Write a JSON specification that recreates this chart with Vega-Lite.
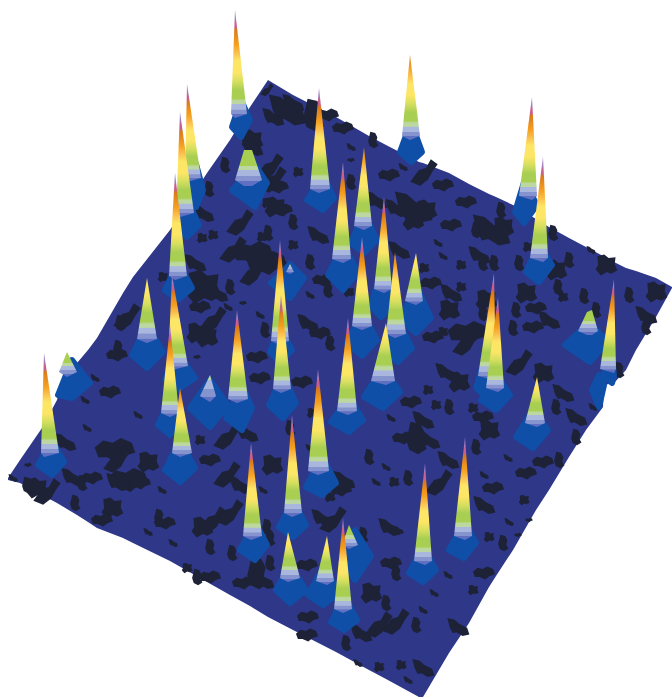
{"$schema":"https://vega.github.io/schema/vega-lite/v6.json","width":672,"height":699,"padding":0,"autosize":"none","background":"white","config":{"view":{"stroke":null}},
"datasets":{"peaks":[
{"id":"1b","kind":"base","x":232,"y":127,"y2":127},{"id":"1b","kind":"base","x":241,"y":100,"y2":137},{"id":"1b","kind":"base","x":250,"y":120,"y2":120},{"id":"1c","kind":"A","x":231,"y":114,"y2":114},{"id":"1c","kind":"A","x":235,"y":10,"y2":118},{"id":"1c","kind":"A","x":247,"y":114,"y2":114},
{"id":"20b","kind":"base","x":400,"y":152,"y2":152},{"id":"20b","kind":"base","x":411,"y":122,"y2":162},{"id":"20b","kind":"base","x":422,"y":152,"y2":152},{"id":"20c","kind":"B","x":402,"y":136,"y2":136},{"id":"20c","kind":"B","x":410,"y":55,"y2":140},{"id":"20c","kind":"B","x":420,"y":136,"y2":136},
{"id":"2b","kind":"base","x":184,"y":197,"y2":197},{"id":"2b","kind":"base","x":196,"y":164,"y2":207},{"id":"2b","kind":"base","x":203,"y":190,"y2":190},{"id":"2c","kind":"A","x":185,"y":178,"y2":178},{"id":"2c","kind":"A","x":187,"y":84,"y2":182},{"id":"2c","kind":"A","x":201,"y":178,"y2":178},
{"id":"5b","kind":"base","x":232,"y":190,"y2":190},{"id":"5b","kind":"base","x":255,"y":165,"y2":207},{"id":"5b","kind":"base","x":267,"y":183,"y2":183},{"id":"5c","kind":"D","x":235,"y":180,"y2":180},{"id":"5c","kind":"D","x":244,"y":150,"y2":186},{"id":"5c","kind":"D","x":252,"y":150,"y2":186},{"id":"5c","kind":"D","x":262,"y":180,"y2":180},
{"id":"6b","kind":"base","x":307,"y":200,"y2":200},{"id":"6b","kind":"base","x":323,"y":175,"y2":210},{"id":"6b","kind":"base","x":334,"y":198,"y2":198},{"id":"6c","kind":"A","x":310,"y":189,"y2":189},{"id":"6c","kind":"A","x":319,"y":88,"y2":193},{"id":"6c","kind":"A","x":330,"y":189,"y2":189},
{"id":"21b","kind":"base","x":515,"y":212,"y2":212},{"id":"21b","kind":"base","x":524,"y":182,"y2":223},{"id":"21b","kind":"base","x":537,"y":205,"y2":205},{"id":"21c","kind":"A","x":519,"y":196,"y2":196},{"id":"21c","kind":"A","x":532,"y":97,"y2":200},{"id":"21c","kind":"A","x":537,"y":196,"y2":196},
{"id":"3b","kind":"base","x":175,"y":227,"y2":227},{"id":"3b","kind":"base","x":187,"y":199,"y2":237},{"id":"3b","kind":"base","x":199,"y":225,"y2":225},{"id":"3c","kind":"A","x":176,"y":213,"y2":213},{"id":"3c","kind":"A","x":180,"y":112,"y2":217},{"id":"3c","kind":"A","x":194,"y":213,"y2":213},
{"id":"13b","kind":"base","x":351,"y":243,"y2":243},{"id":"13b","kind":"base","x":364,"y":212,"y2":253},{"id":"13b","kind":"base","x":377,"y":240,"y2":240},{"id":"13c","kind":"B","x":354,"y":226,"y2":226},{"id":"13c","kind":"B","x":364,"y":147,"y2":230},{"id":"13c","kind":"B","x":372,"y":226,"y2":226},
{"id":"22b","kind":"base","x":526,"y":272,"y2":272},{"id":"22b","kind":"base","x":539,"y":244,"y2":282},{"id":"22b","kind":"base","x":552,"y":265,"y2":265},{"id":"22c","kind":"A","x":530,"y":258,"y2":258},{"id":"22c","kind":"A","x":543,"y":157,"y2":262},{"id":"22c","kind":"A","x":548,"y":258,"y2":258},
{"id":"12b","kind":"base","x":328,"y":275,"y2":275},{"id":"12b","kind":"base","x":343,"y":245,"y2":290},{"id":"12b","kind":"base","x":358,"y":272,"y2":272},{"id":"12c","kind":"A","x":332,"y":259,"y2":259},{"id":"12c","kind":"A","x":343,"y":162,"y2":263},{"id":"12c","kind":"A","x":351,"y":259,"y2":259},
{"id":"40b","kind":"base","x":271,"y":283,"y2":283},{"id":"40b","kind":"base","x":290,"y":264,"y2":298},{"id":"40b","kind":"base","x":304,"y":278,"y2":278},{"id":"40c","kind":"E","x":286,"y":272,"y2":272},{"id":"40c","kind":"E","x":290,"y":264,"y2":274},{"id":"40c","kind":"E","x":294,"y":272,"y2":272},
{"id":"4b","kind":"base","x":165,"y":290,"y2":290},{"id":"4b","kind":"base","x":178,"y":262,"y2":300},{"id":"4b","kind":"base","x":192,"y":288,"y2":288},{"id":"4c","kind":"A","x":169,"y":276,"y2":276},{"id":"4c","kind":"A","x":175,"y":173,"y2":280},{"id":"4c","kind":"A","x":187,"y":276,"y2":276},
{"id":"14b","kind":"base","x":370,"y":305,"y2":305},{"id":"14b","kind":"base","x":381,"y":275,"y2":317},{"id":"14b","kind":"base","x":394,"y":305,"y2":305},{"id":"14c","kind":"A","x":374,"y":289,"y2":289},{"id":"14c","kind":"A","x":384,"y":197,"y2":293},{"id":"14c","kind":"A","x":392,"y":289,"y2":289},
{"id":"17b","kind":"base","x":401,"y":320,"y2":320},{"id":"17b","kind":"base","x":416,"y":285,"y2":333},{"id":"17b","kind":"base","x":431,"y":318,"y2":318},{"id":"17c","kind":"C","x":405,"y":301,"y2":301},{"id":"17c","kind":"C","x":416,"y":253,"y2":305},{"id":"17c","kind":"C","x":423,"y":301,"y2":301},
{"id":"10b","kind":"base","x":270,"y":352,"y2":352},{"id":"10b","kind":"base","x":280,"y":327,"y2":362},{"id":"10b","kind":"base","x":292,"y":350,"y2":350},{"id":"10c","kind":"A","x":271,"y":341,"y2":341},{"id":"10c","kind":"A","x":280,"y":240,"y2":345},{"id":"10c","kind":"A","x":289,"y":341,"y2":341},
{"id":"15b","kind":"base","x":347,"y":343,"y2":343},{"id":"15b","kind":"base","x":362,"y":312,"y2":356},{"id":"15b","kind":"base","x":377,"y":340,"y2":340},{"id":"15c","kind":"A","x":352,"y":326,"y2":326},{"id":"15c","kind":"A","x":362,"y":237,"y2":330},{"id":"15c","kind":"A","x":372,"y":326,"y2":326},
{"id":"16b","kind":"base","x":384,"y":350,"y2":350},{"id":"16b","kind":"base","x":398,"y":320,"y2":362},{"id":"16b","kind":"base","x":412,"y":348,"y2":348},{"id":"16c","kind":"B","x":386,"y":334,"y2":334},{"id":"16c","kind":"B","x":395,"y":252,"y2":338},{"id":"16c","kind":"B","x":406,"y":334,"y2":334},
{"id":"25b","kind":"base","x":565,"y":345,"y2":345},{"id":"25b","kind":"base","x":590,"y":322,"y2":362},{"id":"25b","kind":"base","x":607,"y":342,"y2":342},{"id":"25c","kind":"D","x":578,"y":331,"y2":331},{"id":"25c","kind":"D","x":587,"y":312,"y2":335},{"id":"25c","kind":"D","x":592,"y":310,"y2":335},{"id":"25c","kind":"D","x":598,"y":331,"y2":331},
{"id":"7b","kind":"base","x":132,"y":355,"y2":355},{"id":"7b","kind":"base","x":147,"y":325,"y2":368},{"id":"7b","kind":"base","x":163,"y":352,"y2":352},{"id":"7c","kind":"C","x":137,"y":339,"y2":339},{"id":"7c","kind":"C","x":147,"y":278,"y2":343},{"id":"7c","kind":"C","x":157,"y":339,"y2":339},
{"id":"8b","kind":"base","x":165,"y":380,"y2":380},{"id":"8b","kind":"base","x":177,"y":352,"y2":390},{"id":"8b","kind":"base","x":195,"y":378,"y2":378},{"id":"8c","kind":"A","x":168,"y":366,"y2":366},{"id":"8c","kind":"A","x":172,"y":275,"y2":370},{"id":"8c","kind":"A","x":188,"y":366,"y2":366},
{"id":"41b","kind":"base","x":592,"y":390,"y2":390},{"id":"41b","kind":"base","x":599,"y":375,"y2":407},{"id":"41b","kind":"base","x":604,"y":385,"y2":385},
{"id":"26b","kind":"base","x":603,"y":376,"y2":376},{"id":"26b","kind":"base","x":612,"y":355,"y2":383},{"id":"26b","kind":"base","x":614,"y":376,"y2":376},{"id":"26c","kind":"A","x":600,"y":369,"y2":369},{"id":"26c","kind":"A","x":614,"y":279,"y2":373},{"id":"26c","kind":"A","x":616,"y":369,"y2":369},
{"id":"28b","kind":"base","x":58,"y":395,"y2":395},{"id":"28b","kind":"base","x":72,"y":360,"y2":398},{"id":"28b","kind":"base","x":90,"y":383,"y2":383},{"id":"28c","kind":"D","x":59,"y":372,"y2":372},{"id":"28c","kind":"D","x":67,"y":352,"y2":377},{"id":"28c","kind":"D","x":77,"y":372,"y2":372},
{"id":"23b","kind":"base","x":476,"y":388,"y2":388},{"id":"23b","kind":"base","x":484,"y":362,"y2":395},{"id":"23b","kind":"base","x":496,"y":385,"y2":385},{"id":"23c","kind":"A","x":478,"y":376,"y2":376},{"id":"23c","kind":"A","x":494,"y":273,"y2":380},{"id":"23c","kind":"A","x":496,"y":376,"y2":376},
{"id":"18b","kind":"base","x":364,"y":397,"y2":397},{"id":"18b","kind":"base","x":383,"y":367,"y2":408},{"id":"18b","kind":"base","x":400,"y":392,"y2":392},{"id":"18c","kind":"C","x":371,"y":381,"y2":381},{"id":"18c","kind":"C","x":386,"y":323,"y2":385},{"id":"18c","kind":"C","x":395,"y":381,"y2":381},
{"id":"24b","kind":"base","x":481,"y":400,"y2":400},{"id":"24b","kind":"base","x":496,"y":374,"y2":410},{"id":"24b","kind":"base","x":510,"y":395,"y2":395},{"id":"24c","kind":"A","x":486,"y":388,"y2":388},{"id":"24c","kind":"A","x":498,"y":297,"y2":392},{"id":"24c","kind":"A","x":504,"y":388,"y2":388},
{"id":"11b","kind":"base","x":269,"y":405,"y2":405},{"id":"11b","kind":"base","x":283,"y":375,"y2":418},{"id":"11b","kind":"base","x":296,"y":403,"y2":403},{"id":"11c","kind":"A","x":273,"y":389,"y2":389},{"id":"11c","kind":"A","x":281,"y":295,"y2":393},{"id":"11c","kind":"A","x":291,"y":389,"y2":389},
{"id":"29b","kind":"base","x":190,"y":408,"y2":408},{"id":"29b","kind":"base","x":210,"y":380,"y2":427},{"id":"29b","kind":"base","x":228,"y":405,"y2":405},{"id":"29c","kind":"E","x":200,"y":396,"y2":396},{"id":"29c","kind":"E","x":210,"y":375,"y2":402},{"id":"29c","kind":"E","x":216,"y":396,"y2":396},
{"id":"9b","kind":"base","x":226,"y":418,"y2":418},{"id":"9b","kind":"base","x":242,"y":385,"y2":430},{"id":"9b","kind":"base","x":252,"y":408,"y2":408},{"id":"9c","kind":"A","x":228,"y":399,"y2":399},{"id":"9c","kind":"A","x":237,"y":310,"y2":403},{"id":"9c","kind":"A","x":248,"y":399,"y2":399},
{"id":"19b","kind":"base","x":331,"y":422,"y2":422},{"id":"19b","kind":"base","x":349,"y":397,"y2":432},{"id":"19b","kind":"base","x":363,"y":420,"y2":420},{"id":"19c","kind":"A","x":337,"y":411,"y2":411},{"id":"19c","kind":"A","x":348,"y":318,"y2":415},{"id":"19c","kind":"A","x":357,"y":411,"y2":411},
{"id":"30b","kind":"base","x":158,"y":425,"y2":425},{"id":"30b","kind":"base","x":170,"y":399,"y2":435},{"id":"30b","kind":"base","x":182,"y":423,"y2":423},{"id":"30c","kind":"A","x":161,"y":413,"y2":413},{"id":"30c","kind":"A","x":170,"y":325,"y2":417},{"id":"30c","kind":"A","x":179,"y":413,"y2":413},
{"id":"31b","kind":"base","x":516,"y":437,"y2":437},{"id":"31b","kind":"base","x":533,"y":410,"y2":448},{"id":"31b","kind":"base","x":548,"y":430,"y2":430},{"id":"31c","kind":"C","x":525,"y":423,"y2":423},{"id":"31c","kind":"C","x":537,"y":377,"y2":427},{"id":"31c","kind":"C","x":545,"y":423,"y2":423},
{"id":"27b","kind":"base","x":38,"y":465,"y2":465},{"id":"27b","kind":"base","x":52,"y":440,"y2":475},{"id":"27b","kind":"base","x":64,"y":462,"y2":462},{"id":"27c","kind":"A","x":41,"y":453,"y2":453},{"id":"27c","kind":"A","x":44,"y":353,"y2":457},{"id":"27c","kind":"A","x":59,"y":453,"y2":453},
{"id":"32b","kind":"base","x":165,"y":470,"y2":470},{"id":"32b","kind":"base","x":180,"y":440,"y2":482},{"id":"32b","kind":"base","x":195,"y":468,"y2":468},{"id":"32c","kind":"B","x":172,"y":453,"y2":453},{"id":"32c","kind":"B","x":180,"y":388,"y2":457},{"id":"32c","kind":"B","x":192,"y":453,"y2":453},
{"id":"33b","kind":"base","x":306,"y":487,"y2":487},{"id":"33b","kind":"base","x":322,"y":457,"y2":495},{"id":"33b","kind":"base","x":336,"y":483,"y2":483},{"id":"33c","kind":"A","x":308,"y":471,"y2":471},{"id":"33c","kind":"A","x":318,"y":369,"y2":475},{"id":"33c","kind":"A","x":329,"y":471,"y2":471},
{"id":"34b","kind":"base","x":279,"y":527,"y2":527},{"id":"34b","kind":"base","x":293,"y":499,"y2":537},{"id":"34b","kind":"base","x":306,"y":525,"y2":525},{"id":"34c","kind":"A","x":284,"y":513,"y2":513},{"id":"34c","kind":"A","x":292,"y":415,"y2":517},{"id":"34c","kind":"A","x":302,"y":513,"y2":513},
{"id":"35b","kind":"base","x":449,"y":550,"y2":550},{"id":"35b","kind":"base","x":464,"y":522,"y2":558},{"id":"35b","kind":"base","x":476,"y":543,"y2":543},{"id":"35c","kind":"A","x":454,"y":536,"y2":536},{"id":"35c","kind":"A","x":465,"y":437,"y2":540},{"id":"35c","kind":"A","x":472,"y":536,"y2":536},
{"id":"36b","kind":"base","x":240,"y":550,"y2":550},{"id":"36b","kind":"base","x":255,"y":522,"y2":560},{"id":"36b","kind":"base","x":267,"y":545,"y2":545},{"id":"36c","kind":"A","x":243,"y":536,"y2":536},{"id":"36c","kind":"A","x":251,"y":443,"y2":540},{"id":"36c","kind":"A","x":262,"y":536,"y2":536},
{"id":"37b","kind":"base","x":409,"y":573,"y2":573},{"id":"37b","kind":"base","x":423,"y":547,"y2":582},{"id":"37b","kind":"base","x":436,"y":570,"y2":570},{"id":"37c","kind":"A","x":414,"y":561,"y2":561},{"id":"37c","kind":"A","x":425,"y":463,"y2":565},{"id":"37c","kind":"A","x":432,"y":561,"y2":561},
{"id":"38b","kind":"base","x":345,"y":565,"y2":565},{"id":"38b","kind":"base","x":355,"y":530,"y2":580},{"id":"38b","kind":"base","x":371,"y":556,"y2":556},{"id":"38c","kind":"D","x":342,"y":545,"y2":545},{"id":"38c","kind":"D","x":349,"y":525,"y2":549},{"id":"38c","kind":"D","x":358,"y":545,"y2":545},
{"id":"39b","kind":"base","x":276,"y":590,"y2":590},{"id":"39b","kind":"base","x":290,"y":565,"y2":603},{"id":"39b","kind":"base","x":306,"y":590,"y2":590},{"id":"39c","kind":"C","x":280,"y":578,"y2":578},{"id":"39c","kind":"C","x":288,"y":532,"y2":582},{"id":"39c","kind":"C","x":300,"y":578,"y2":578},
{"id":"42b","kind":"base","x":308,"y":595,"y2":595},{"id":"42b","kind":"base","x":323,"y":568,"y2":605},{"id":"42b","kind":"base","x":340,"y":592,"y2":592},{"id":"42c","kind":"C","x":316,"y":581,"y2":581},{"id":"42c","kind":"C","x":327,"y":536,"y2":585},{"id":"42c","kind":"C","x":334,"y":581,"y2":581},
{"id":"43b","kind":"base","x":331,"y":622,"y2":622},{"id":"43b","kind":"base","x":344,"y":596,"y2":630},{"id":"43b","kind":"base","x":357,"y":620,"y2":620},{"id":"43c","kind":"A","x":334,"y":609,"y2":609},{"id":"43c","kind":"A","x":343,"y":518,"y2":613},{"id":"43c","kind":"A","x":352,"y":609,"y2":609}
]},
"encoding":{"x":{"field":"x","type":"quantitative","scale":{"domain":[0,672],"nice":false,"zero":false},"axis":null},"y":{"field":"y","type":"quantitative","scale":{"domain":[699,0],"nice":false,"zero":false},"axis":null}},
"layer":[
{"data":{"values":[{"x":8,"y":478,"y2":480},{"x":20,"y":460,"y2":483},{"x":42,"y":428,"y2":495},{"x":57,"y":400,"y2":503},{"x":62,"y":380,"y2":506},{"x":77,"y":363,"y2":515},{"x":88,"y":350,"y2":522},{"x":97,"y":338,"y2":528},{"x":123,"y":293,"y2":538},{"x":133,"y":277,"y2":543},{"x":170,"y":230,"y2":561},{"x":207,"y":173,"y2":582},{"x":230,"y":140,"y2":595},{"x":250,"y":107,"y2":606},{"x":268,"y":80,"y2":617},{"x":293,"y":95,"y2":630},{"x":336,"y":117,"y2":652},{"x":369,"y":136,"y2":670},{"x":386,"y":145,"y2":679},{"x":419,"y":162,"y2":697},{"x":423,"y":163,"y2":697},{"x":449,"y":173,"y2":653},{"x":469,"y":184,"y2":623},{"x":489,"y":194,"y2":587},{"x":496,"y":197,"y2":576},{"x":513,"y":205,"y2":550},{"x":536,"y":219,"y2":510},{"x":549,"y":227,"y2":490},{"x":569,"y":238,"y2":457},{"x":586,"y":247,"y2":430},{"x":603,"y":256,"y2":407},{"x":604,"y":256,"y2":385},{"x":614,"y":262,"y2":383},{"x":626,"y":268,"y2":370},{"x":636,"y":271,"y2":350},{"x":656,"y":278,"y2":317},{"x":672,"y":287,"y2":288}]},
"mark":{"type":"area","color":"#2e3788"},"encoding":{"y2":{"field":"y2"}}},
{"data":{"values":[{"x":267,"y":90,"a":60},{"x":287,"y":110,"a":452},{"x":273,"y":117,"a":154},{"x":293,"y":103,"a":154},{"x":313,"y":115,"a":314},{"x":328,"y":115,"a":113},{"x":252,"y":140,"a":201},{"x":252,"y":147,"a":154},{"x":270,"y":167,"a":254},{"x":273,"y":180,"a":254},{"x":278,"y":187,"a":113},{"x":225,"y":165,"a":79},{"x":209,"y":189,"a":79},{"x":203,"y":213,"a":154},{"x":275,"y":207,"a":201},{"x":282,"y":210,"a":113},{"x":267,"y":203,"a":50},{"x":240,"y":223,"a":254},{"x":293,"y":222,"a":79},{"x":298,"y":172,"a":50},{"x":268,"y":233,"a":79},{"x":262,"y":237,"a":50},{"x":293,"y":245,"a":50},{"x":318,"y":235,"a":154},{"x":202,"y":238,"a":50},{"x":213,"y":235,"a":50},{"x":233,"y":250,"a":254},{"x":253,"y":253,"a":380},{"x":267,"y":263,"a":380},{"x":253,"y":273,"a":254},{"x":280,"y":263,"a":154},{"x":195,"y":263,"a":154},{"x":203,"y":287,"a":531},{"x":197,"y":283,"a":201},{"x":217,"y":293,"a":154},{"x":230,"y":287,"a":79},{"x":200,"y":307,"a":113},{"x":213,"y":320,"a":254},{"x":197,"y":333,"a":201},{"x":207,"y":337,"a":201},{"x":163,"y":277,"a":50},{"x":127,"y":317,"a":254},{"x":120,"y":323,"a":79},{"x":310,"y":262,"a":79},{"x":323,"y":280,"a":113},{"x":328,"y":290,"a":79},{"x":310,"y":295,"a":28},{"x":228,"y":307,"a":28},{"x":243,"y":303,"a":13},{"x":260,"y":315,"a":28},{"x":265,"y":330,"a":79},{"x":308,"y":323,"a":154},{"x":320,"y":333,"a":113},{"x":330,"y":343,"a":79},{"x":118,"y":348,"a":79},
{"x":343,"y":128,"a":113},{"x":373,"y":140,"a":79},{"x":351,"y":147,"a":28},{"x":351,"y":160,"a":13},{"x":389,"y":175,"a":113},{"x":403,"y":167,"a":28},{"x":424,"y":173,"a":254},{"x":443,"y":185,"a":113},{"x":466,"y":202,"a":113},{"x":501,"y":210,"a":79},{"x":491,"y":230,"a":452},{"x":503,"y":227,"a":201},{"x":476,"y":230,"a":79},{"x":413,"y":207,"a":452},{"x":426,"y":210,"a":201},{"x":396,"y":208,"a":154},{"x":413,"y":220,"a":201},{"x":451,"y":225,"a":113},{"x":438,"y":243,"a":28},{"x":443,"y":256,"a":28},{"x":399,"y":250,"a":154},{"x":424,"y":268,"a":50},{"x":431,"y":283,"a":113},{"x":479,"y":255,"a":154},{"x":483,"y":263,"a":79},{"x":494,"y":263,"a":79},{"x":461,"y":265,"a":50},{"x":519,"y":263,"a":79},{"x":528,"y":247,"a":50},{"x":556,"y":270,"a":201},{"x":558,"y":287,"a":79},{"x":569,"y":260,"a":79},{"x":553,"y":233,"a":79},{"x":591,"y":250,"a":28},{"x":606,"y":265,"a":201},{"x":656,"y":292,"a":201},{"x":646,"y":315,"a":154},{"x":646,"y":327,"a":79},{"x":629,"y":295,"a":79},{"x":451,"y":293,"a":154},{"x":449,"y":310,"a":201},{"x":461,"y":287,"a":50},{"x":486,"y":300,"a":201},{"x":483,"y":313,"a":79},{"x":526,"y":293,"a":201},{"x":536,"y":308,"a":113},{"x":516,"y":310,"a":79},{"x":563,"y":297,"a":50},{"x":584,"y":296,"a":79},{"x":549,"y":320,"a":154},{"x":533,"y":327,"a":113},{"x":513,"y":328,"a":79},{"x":468,"y":333,"a":380},{"x":466,"y":343,"a":254},{"x":433,"y":337,"a":113},{"x":443,"y":332,"a":50},{"x":349,"y":292,"a":50},{"x":351,"y":182,"a":79},{"x":376,"y":200,"a":154},{"x":596,"y":310,"a":79},
{"x":117,"y":355,"a":113},{"x":95,"y":378,"a":28},{"x":110,"y":392,"a":113},{"x":85,"y":400,"a":28},{"x":138,"y":415,"a":28},{"x":87,"y":428,"a":28},{"x":65,"y":442,"a":154},{"x":115,"y":450,"a":380},{"x":117,"y":460,"a":254},{"x":148,"y":462,"a":201},{"x":92,"y":478,"a":113},{"x":72,"y":477,"a":154},{"x":82,"y":483,"a":79},{"x":128,"y":480,"a":380},{"x":117,"y":482,"a":154},{"x":140,"y":483,"a":113},{"x":37,"y":488,"a":201},{"x":47,"y":492,"a":254},{"x":27,"y":485,"a":79},{"x":13,"y":478,"a":28},{"x":28,"y":465,"a":13},{"x":75,"y":503,"a":79},{"x":112,"y":508,"a":201},{"x":102,"y":520,"a":113},{"x":162,"y":490,"a":28},{"x":159,"y":517,"a":79},{"x":165,"y":523,"a":113},{"x":148,"y":532,"a":28},{"x":173,"y":543,"a":28},{"x":202,"y":527,"a":201},{"x":213,"y":520,"a":254},{"x":230,"y":513,"a":254},{"x":210,"y":547,"a":79},{"x":200,"y":440,"a":50},{"x":227,"y":437,"a":254},{"x":247,"y":433,"a":154},{"x":210,"y":460,"a":113},{"x":227,"y":475,"a":254},{"x":240,"y":485,"a":154},{"x":272,"y":465,"a":201},{"x":263,"y":490,"a":28},{"x":290,"y":428,"a":79},{"x":197,"y":577,"a":79},{"x":210,"y":577,"a":113},{"x":187,"y":568,"a":50},{"x":232,"y":553,"a":79},{"x":257,"y":573,"a":314},{"x":243,"y":583,"a":113},{"x":263,"y":580,"a":154},{"x":270,"y":563,"a":79},{"x":307,"y":565,"a":113},{"x":308,"y":617,"a":113},{"x":307,"y":635,"a":113},{"x":267,"y":527,"a":79},{"x":270,"y":538,"a":79},{"x":322,"y":518,"a":154},{"x":333,"y":520,"a":254},{"x":330,"y":497,"a":50},{"x":310,"y":448,"a":28},{"x":257,"y":357,"a":113},{"x":260,"y":378,"a":113},{"x":302,"y":382,"a":113},{"x":197,"y":357,"a":13},{"x":312,"y":413,"a":50},
{"x":446,"y":372,"a":154},{"x":459,"y":382,"a":201},{"x":411,"y":402,"a":113},{"x":428,"y":390,"a":50},{"x":449,"y":407,"a":79},{"x":436,"y":405,"a":50},{"x":423,"y":420,"a":154},{"x":416,"y":438,"a":314},{"x":403,"y":438,"a":113},{"x":429,"y":440,"a":154},{"x":391,"y":418,"a":28},{"x":473,"y":408,"a":50},{"x":483,"y":417,"a":113},{"x":489,"y":430,"a":201},{"x":476,"y":447,"a":79},{"x":519,"y":363,"a":254},{"x":543,"y":373,"a":201},{"x":563,"y":393,"a":154},{"x":556,"y":407,"a":79},{"x":576,"y":417,"a":154},{"x":593,"y":407,"a":28},{"x":576,"y":437,"a":79},{"x":619,"y":370,"a":79},{"x":369,"y":457,"a":79},{"x":386,"y":467,"a":28},{"x":394,"y":482,"a":50},{"x":376,"y":482,"a":28},{"x":408,"y":478,"a":79},{"x":344,"y":480,"a":154},{"x":341,"y":490,"a":113},{"x":448,"y":460,"a":154},{"x":484,"y":475,"a":28},{"x":439,"y":483,"a":254},{"x":508,"y":458,"a":28},{"x":526,"y":473,"a":113},{"x":543,"y":462,"a":113},{"x":559,"y":460,"a":79},{"x":493,"y":488,"a":113},{"x":484,"y":505,"a":154},{"x":524,"y":500,"a":50},{"x":389,"y":527,"a":154},{"x":399,"y":530,"a":28},{"x":363,"y":535,"a":79},{"x":489,"y":537,"a":50},{"x":503,"y":543,"a":79},{"x":509,"y":522,"a":28},{"x":529,"y":520,"a":13},{"x":518,"y":535,"a":13},{"x":391,"y":563,"a":113},{"x":396,"y":573,"a":79},{"x":484,"y":573,"a":113},{"x":448,"y":575,"a":28},{"x":371,"y":593,"a":201},{"x":386,"y":603,"a":79},{"x":434,"y":593,"a":28},{"x":473,"y":590,"a":50},{"x":423,"y":610,"a":28},{"x":396,"y":622,"a":254},{"x":416,"y":625,"a":79},{"x":379,"y":625,"a":254},{"x":361,"y":633,"a":154},{"x":346,"y":643,"a":79},{"x":458,"y":627,"a":154},{"x":379,"y":667,"a":50},{"x":358,"y":663,"a":28},{"x":401,"y":665,"a":50},{"x":423,"y":668,"a":154},{"x":408,"y":680,"a":28}]},
"mark":{"type":"point","filled":true,"opacity":1,"color":"#1d2237"},
"encoding":{"size":{"field":"a","type":"quantitative","legend":null,"scale":{"domain":[0,600],"range":[0,900]}},
"shape":{"field":"a","type":"nominal","legend":null,"scale":{"range":["M-1.7,-.2L-1,-.8L-.2,-.6L.5,-1L1.4,-.6L1.7,.2L.8,.5L.2,1L-.7,.6L-1.4,.6Z","M-1.4,-1.2L-.5,-1L.2,-.4L1.2,.1L1.5,1L.6,1.2L-.2,.7L-.7,.8L-1.1,0Z","M-1,-1L-.2,-1.2L.3,-.8L1.1,-.9L1,-.1L1.3,.6L.6,1L.1,.8L-.6,1.2L-1.2,.5L-.9,0Z","M.7,-1.4L1.4,-.9L.9,-.2L.4,.7L-.4,1.3L-1.4,.9L-.9,.2L-.5,-.3L.2,-.5Z","M-.5,-1.5L.4,-1.3L.8,-.5L.6,.3L1,1L.2,1.5L-.6,1.1L-.9,.2L-.7,-.6Z"]}}}},
{"data":{"name":"peaks"},"transform":[{"filter":"datum.kind==='base'"}],"mark":{"type":"area","color":"#0f4fa8","line":false,"stroke":"#0f4fa8","strokeWidth":6,"strokeJoin":"round"},"encoding":{"y2":{"field":"y2"},"detail":{"field":"id"}}},
{"data":{"name":"peaks"},"transform":[{"filter":"datum.kind==='D'"}],"mark":{"type":"area","color":{"gradient":"linear","x1":0,"y1":0,"x2":0,"y2":1,"stops":[{"offset":0,"color":"#a9cf52"},{"offset":0.433,"color":"#a9cf52"},{"offset":0.433,"color":"#bcd8a0"},{"offset":0.567,"color":"#bcd8a0"},{"offset":0.567,"color":"#a9b7de"},{"offset":0.733,"color":"#a9b7de"},{"offset":0.733,"color":"#8593cf"},{"offset":0.867,"color":"#8593cf"},{"offset":0.867,"color":"#5f70c2"},{"offset":1,"color":"#5f70c2"}]}},"encoding":{"y2":{"field":"y2"},"detail":{"field":"id"}}},
{"data":{"name":"peaks"},"transform":[{"filter":"datum.kind==='E'"}],"mark":{"type":"area","color":{"gradient":"linear","x1":0,"y1":0,"x2":0,"y2":1,"stops":[{"offset":0,"color":"#bcd8a0"},{"offset":0.2,"color":"#bcd8a0"},{"offset":0.2,"color":"#a9b7de"},{"offset":0.5,"color":"#a9b7de"},{"offset":0.5,"color":"#8593cf"},{"offset":0.8,"color":"#8593cf"},{"offset":0.8,"color":"#5f70c2"},{"offset":1,"color":"#5f70c2"}]}},"encoding":{"y2":{"field":"y2"},"detail":{"field":"id"}}},
{"data":{"name":"peaks"},"transform":[{"filter":"datum.kind==='A'"}],"mark":{"type":"area","color":{"gradient":"linear","x1":0,"y1":0,"x2":0,"y2":1,"stops":[{"offset":0,"color":"#a07cc0"},{"offset":0.09,"color":"#a07cc0"},{"offset":0.11,"color":"#c85f8c"},{"offset":0.16,"color":"#c85f8c"},{"offset":0.18,"color":"#d9761e"},{"offset":0.24,"color":"#e68a1c"},{"offset":0.32,"color":"#f5a020"},{"offset":0.4,"color":"#fbc24f"},{"offset":0.47,"color":"#fde566"},{"offset":0.58,"color":"#fde566"},{"offset":0.66,"color":"#d6df5f"},{"offset":0.74,"color":"#a9cf52"},{"offset":0.82,"color":"#a9cf52"},{"offset":0.84,"color":"#bcd8a0"},{"offset":0.87,"color":"#bcd8a0"},{"offset":0.875,"color":"#a9b7de"},{"offset":0.92,"color":"#a9b7de"},{"offset":0.925,"color":"#8593cf"},{"offset":0.96,"color":"#8593cf"},{"offset":0.965,"color":"#5f70c2"},{"offset":1,"color":"#5f70c2"}]}},"encoding":{"y2":{"field":"y2"},"detail":{"field":"id"}}},
{"data":{"name":"peaks"},"transform":[{"filter":"datum.kind==='B'"}],"mark":{"type":"area","color":{"gradient":"linear","x1":0,"y1":0,"x2":0,"y2":1,"stops":[{"offset":0,"color":"#d9761e"},{"offset":0.05,"color":"#e68a1c"},{"offset":0.15,"color":"#f5a020"},{"offset":0.25,"color":"#fbc24f"},{"offset":0.34,"color":"#fde566"},{"offset":0.475,"color":"#fde566"},{"offset":0.575,"color":"#d6df5f"},{"offset":0.675,"color":"#a9cf52"},{"offset":0.775,"color":"#a9cf52"},{"offset":0.8,"color":"#bcd8a0"},{"offset":0.84,"color":"#bcd8a0"},{"offset":0.845,"color":"#a9b7de"},{"offset":0.9,"color":"#a9b7de"},{"offset":0.905,"color":"#8593cf"},{"offset":0.95,"color":"#8593cf"},{"offset":0.955,"color":"#5f70c2"},{"offset":1,"color":"#5f70c2"}]}},"encoding":{"y2":{"field":"y2"},"detail":{"field":"id"}}},
{"data":{"name":"peaks"},"transform":[{"filter":"datum.kind==='C'"}],"mark":{"type":"area","color":{"gradient":"linear","x1":0,"y1":0,"x2":0,"y2":1,"stops":[{"offset":0,"color":"#fde566"},{"offset":0.25,"color":"#fde566"},{"offset":0.4,"color":"#d6df5f"},{"offset":0.53,"color":"#a9cf52"},{"offset":0.67,"color":"#a9cf52"},{"offset":0.71,"color":"#bcd8a0"},{"offset":0.76,"color":"#bcd8a0"},{"offset":0.77,"color":"#a9b7de"},{"offset":0.85,"color":"#a9b7de"},{"offset":0.86,"color":"#8593cf"},{"offset":0.93,"color":"#8593cf"},{"offset":0.935,"color":"#5f70c2"},{"offset":1,"color":"#5f70c2"}]}},"encoding":{"y2":{"field":"y2"},"detail":{"field":"id"}}}
]}
